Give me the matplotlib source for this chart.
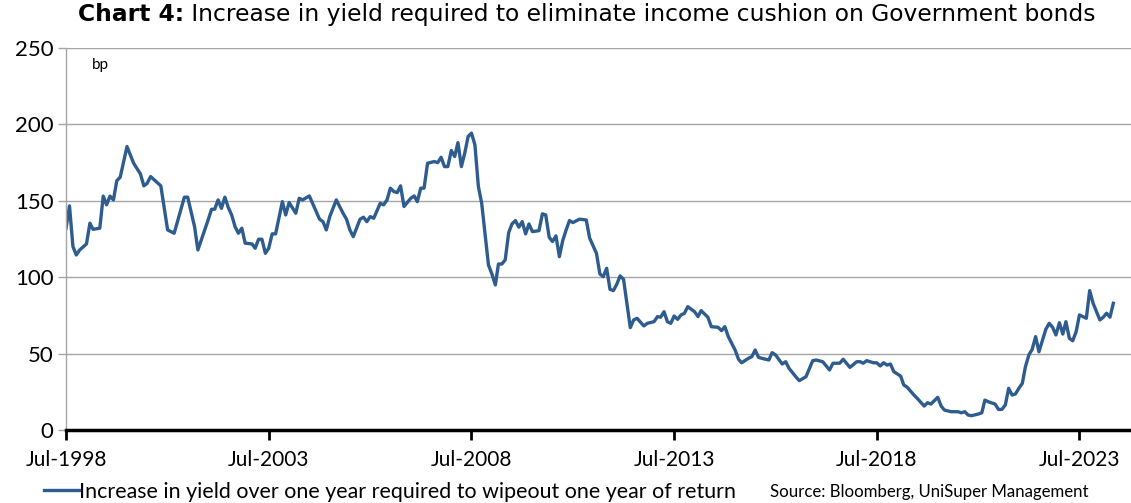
import matplotlib.pyplot as plt
import matplotlib.dates as mdates
import pandas as pd

# Monthly readings of the yield buffer (bp)
dates = [
    "1998-07", "1998-08", "1998-09", "1998-10", "1998-11", "1999-01", "1999-02", "1999-03",
    "1999-05", "1999-06", "1999-07", "1999-08", "1999-09", "1999-10", "1999-11", "2000-01",
    "2000-03", "2000-05", "2000-06", "2000-07", "2000-08", "2000-11", "2001-01", "2001-03",
    "2001-06", "2001-07", "2001-09", "2001-10", "2002-01", "2002-02", "2002-03", "2002-04",
    "2002-05", "2002-06", "2002-07", "2002-08", "2002-09", "2002-10", "2002-11", "2002-12",
    "2003-02", "2003-03", "2003-04", "2003-05", "2003-06", "2003-07", "2003-08", "2003-09",
    "2003-11", "2003-12", "2004-01", "2004-03", "2004-04", "2004-05", "2004-07", "2004-10",
    "2004-11", "2004-12", "2005-01", "2005-03", "2005-05", "2005-06", "2005-07", "2005-08",
    "2005-10", "2005-11", "2005-12", "2006-01", "2006-02", "2006-04", "2006-05", "2006-06",
    "2006-07", "2006-08", "2006-09", "2006-10", "2006-11", "2007-01", "2007-02", "2007-03",
    "2007-04", "2007-05", "2007-06", "2007-08", "2007-09", "2007-10", "2007-11", "2007-12",
    "2008-01", "2008-02", "2008-03", "2008-04", "2008-05", "2008-06", "2008-07", "2008-08",
    "2008-09", "2008-10", "2008-12", "2009-01", "2009-02", "2009-03", "2009-04", "2009-05",
    "2009-06", "2009-07", "2009-08", "2009-09", "2009-10", "2009-11", "2009-12", "2010-01",
    "2010-03", "2010-04", "2010-05", "2010-06", "2010-07", "2010-08", "2010-09", "2010-10",
    "2010-11", "2010-12", "2011-01", "2011-03", "2011-05", "2011-06", "2011-08", "2011-09",
    "2011-10", "2011-11", "2011-12", "2012-01", "2012-02", "2012-03", "2012-04", "2012-06",
    "2012-07", "2012-08", "2012-10", "2012-11", "2013-01", "2013-02", "2013-03", "2013-04",
    "2013-05", "2013-06", "2013-07", "2013-08", "2013-09", "2013-10", "2013-11", "2014-01",
    "2014-02", "2014-03", "2014-05", "2014-06", "2014-08", "2014-09", "2014-10", "2014-11",
    "2015-01", "2015-02", "2015-03", "2015-05", "2015-06", "2015-07", "2015-08", "2015-09",
    "2015-11", "2015-12", "2016-01", "2016-03", "2016-04", "2016-05", "2016-07", "2016-08",
    "2016-10", "2016-12", "2017-01", "2017-03", "2017-05", "2017-06", "2017-08", "2017-09",
    "2017-11", "2018-01", "2018-02", "2018-03", "2018-04", "2018-06", "2018-07", "2018-08",
    "2018-09", "2018-10", "2018-11", "2018-12", "2019-02", "2019-03", "2019-04", "2019-06",
    "2019-07", "2019-09", "2019-10", "2019-11", "2020-01", "2020-02", "2020-03", "2020-05",
    "2020-07", "2020-08", "2020-09", "2020-10", "2020-11", "2021-01", "2021-02", "2021-03",
    "2021-04", "2021-06", "2021-07", "2021-08", "2021-09", "2021-10", "2021-11", "2021-12",
    "2022-01", "2022-02", "2022-03", "2022-04", "2022-05", "2022-06", "2022-07", "2022-09",
    "2022-10", "2022-11", "2022-12", "2023-01", "2023-02", "2023-03", "2023-04", "2023-05",
    "2023-06", "2023-07", "2023-08", "2023-09", "2023-10", "2023-11", "2024-01", "2024-02",
    "2024-03", "2024-04", "2024-05",
]
values = [
    132, 146.6, 120, 114.5, 117.8, 121.7, 135.3, 131.3,
    132, 153, 147.3, 153, 150.5, 163, 165.4, 185.4,
    174.5, 167.5, 159.7, 161.4, 165.8, 159.7, 130.9, 128.7,
    152.3, 152.3, 133, 117.8, 137.4, 144.4, 144.4, 150.5,
    145, 152.3, 145.7, 140.7, 133, 128.7, 132, 122.2,
    121.7, 118.9, 124.8, 124.8, 115.6, 118.9, 128.3, 128.3,
    149.4, 140.7, 148.8, 141.8, 151.6, 150.5, 153.1, 137.9,
    136.3, 130.9, 139.6, 150.5, 141.8, 137.9, 130.9, 126.5,
    137.9, 139.2, 136.3, 139.6, 138.5, 148.3, 147.3, 150.5,
    158.2, 156, 155.3, 159.7, 146.2, 151.6, 153.1, 149.4,
    158.2, 158.2, 174.5, 175.6, 174.9, 178.4, 172.3, 172.3,
    182.8, 178.9, 188, 172.3, 181, 192, 194.2, 186.5,
    159.3, 148.3, 108, 102.1, 94.9, 108.6, 108.6, 111.3,
    129.1, 134.8, 137, 132.7, 136.3, 128.3, 134.8, 129.8,
    130.4, 141.4, 140.7, 126.1, 123.3, 127, 113.4, 123.9,
    130.9, 137, 135.7, 137.9, 137.4, 125.5, 115.6, 102.1,
    100.3, 105.8, 92, 91.2, 95.5, 100.8, 98.6, 67,
    72, 73.1, 68.1, 69.8, 70.9, 74.2, 73.8, 77.4,
    70.9, 69.8, 74.6, 72.4, 75.3, 76.3, 80.7, 77.4,
    74.2, 78.1, 73.8, 67.6, 67.2, 65, 67.6, 61.1,
    52.4, 46.3, 44, 46.9, 48, 52.4, 47.5, 46.9,
    45.8, 50.6, 49.1, 43.2, 44.7, 40.4, 34.9, 32.3,
    34.9, 45.4, 45.8, 44.7, 39.3, 43.7, 43.7, 46.3,
    41, 44.7, 44.7, 43.7, 45.4, 44, 44, 41.9,
    44, 42.5, 43.2, 38.2, 35.3, 29.5, 28, 22.9,
    20.7, 15.7, 17.9, 17, 21.4, 15.7, 13.1, 12,
    12, 11.3, 12, 9.8, 9.4, 10.5, 11.3, 19.6,
    18.5, 17, 13.5, 13.5, 16.4, 27.3, 22.9, 23.6,
    27.3, 30.5, 41.4, 49.1, 52.8, 61.1, 51.2, 65.9,
    69.8, 67.2, 62.2, 70.2, 62.8, 70.9, 60, 58.4,
    64.3, 75.3, 74.2, 73.1, 91.2, 82.9, 72, 73.8,
    76.4, 73.8, 82.9,
]
y_ticks = [0, 50, 100, 150, 200, 250]
x_tick_dates = ["1998-07", "2003-07", "2008-07", "2013-07", "2018-07", "2023-07"]

title_bold = "Chart 4:"
title_rest = " Increase in yield required to eliminate income cushion on Government bonds"
series_label = "Increase in yield over one year required to wipeout one year of return"
source_text = "Source: Bloomberg, UniSuper Management"

x = pd.to_datetime(dates)

fig = plt.figure(figsize=(11.31, 5.03), dpi=100)
ax = fig.add_axes([0.0584, 0.145, 0.95, 0.76])

line, = ax.plot(x, values, color="#2E5C8F", linewidth=2.4, solid_joinstyle="round")

ax.set_ylim(0, 250)
ax.set_yticks(y_ticks)
ax.set_xlim(pd.Timestamp("1998-07-01"), pd.Timestamp("2025-01-01"))
ax.set_xticks(pd.to_datetime(x_tick_dates))
ax.xaxis.set_major_formatter(mdates.DateFormatter("%b-%Y"))

ax.grid(axis="y", color="#A6A6A6", linewidth=1.0)
ax.set_axisbelow(True)

for side in ["top", "right"]:
    ax.spines[side].set_visible(False)
ax.spines["left"].set_color("#A6A6A6")
ax.spines["left"].set_linewidth(1.0)
ax.spines["bottom"].set_color("black")
ax.spines["bottom"].set_linewidth(2.5)

ax.tick_params(axis="y", direction="out", length=6, width=1, color="#A6A6A6",
               labelsize=16, pad=3)
ax.tick_params(axis="x", direction="out", length=7, width=2, color="black",
               labelsize=15, pad=7)
for lab in ax.get_xticklabels() + ax.get_yticklabels():
    lab.set_fontfamily("Lato")

ax.text(0.024, 0.955, "bp", transform=ax.transAxes, fontsize=11,
        family="Lato", va="center", ha="left")

# Title: bold prefix, regular text placed right after it
t1 = fig.text(0.069, 0.958, title_bold, fontsize=16.8, fontweight="bold",
              family="DejaVu Sans", va="baseline", ha="left")
ax.annotate(title_rest, xy=(1, 0), xycoords=t1, va="bottom", ha="left",
            fontsize=16.8, family="DejaVu Sans", annotation_clip=False)

fig.legend([line], [series_label], loc="center left",
           bbox_to_anchor=(0.031, 0.022), frameon=False,
           handlelength=1.65, handletextpad=0.0, borderaxespad=0,
           prop={"family": "Lato", "size": 15.4})

fig.text(0.681, 0.022, source_text, fontsize=12.1, family="Lato",
         va="center", ha="left")

fig.savefig("out.png", dpi=100)
